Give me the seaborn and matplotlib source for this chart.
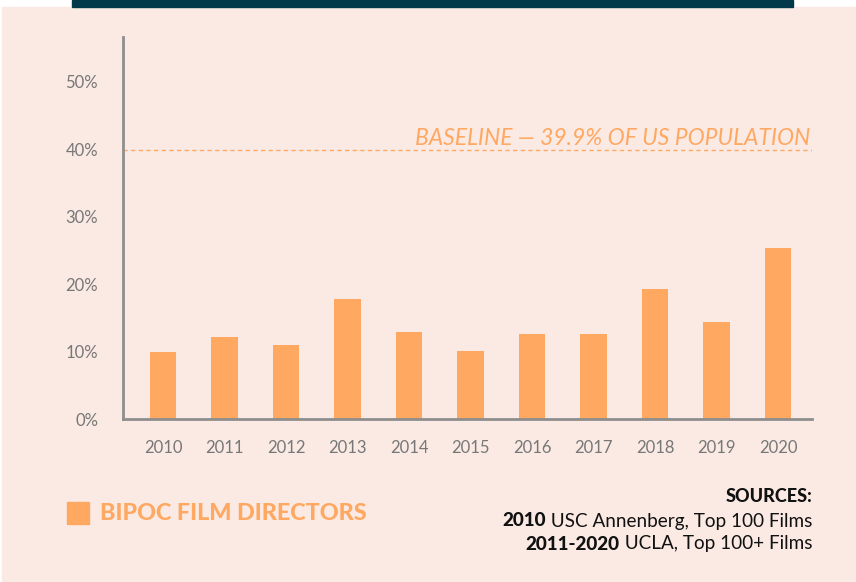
import pandas as pd
import matplotlib.pyplot as plt
import seaborn as sns
from matplotlib.patches import Rectangle
#------------------------------------
# Data
years = ['2010', '2011', '2012', '2013', '2014', '2015', '2016', '2017', '2018', '2019', '2020']
bipoc_pct = [10.0, 12.1, 11.0, 17.8, 12.9, 10.1, 12.6, 12.6, 19.3, 14.4, 25.3]
baseline_pct = 39.9
y_ticks = [0, 10, 20, 30, 40, 50]
y_labels = ['0%', '10%', '20%', '30%', '40%', '50%']
source_years = ['2010', '2011-2020']
source_names = ['USC Annenberg, Top 100 Films', 'UCLA, Top 100+ Films']
#------------------------------------
ORANGE = '#FFA862'
GREY = '#8E8E8E'
PINK = '#FAEAE3'
NAVY = '#02394A'

sns.set_theme(style='white')
plt.rcParams['font.family'] = ['Lato', 'DejaVu Sans']

df = pd.DataFrame({'year': years, 'pct': bipoc_pct})

fig = plt.figure(figsize=(8.56, 5.82), dpi=100, facecolor='white')
# pink panel + navy strip at the top
fig.add_artist(Rectangle((2 / 856, 0), 1, 1 - 7 / 582, transform=fig.transFigure,
                         color=PINK, zorder=-10))
fig.add_artist(Rectangle((72 / 856, 1 - 7 / 582), (793 - 72) / 856, 7 / 582,
                         transform=fig.transFigure, color=NAVY, zorder=-10))

ax = fig.add_axes([123 / 856, 1 - 419 / 582, (812 - 123) / 856, (419 - 37) / 582])
ax.set_facecolor('none')
sns.barplot(data=df, x='year', y='pct', color=ORANGE, saturation=1, width=0.43,
            linewidth=0, ax=ax)
ax.set_xlim(-0.65, 10.55)
ax.set_ylim(0, 56.6)

# baseline
ax.axhline(baseline_pct, color=ORANGE, lw=1, ls=(0, (3, 2.5)))
ax.text(10.52, baseline_pct + 0.75, 'BASELINE \u2014 39.9% OF US POPULATION',
        ha='right', va='baseline', color=ORANGE, fontsize=16.5, style='italic')

# axes styling
sns.despine(ax=ax, top=True, right=True)
for s in ['left', 'bottom']:
    ax.spines[s].set_color(GREY)
    ax.spines[s].set_linewidth(2)
ax.set_yticks(y_ticks)
ax.set_yticklabels(y_labels)
ax.tick_params(axis='both', colors=GREY, length=6, width=2, direction='out',
               labelcolor='#777777', labelsize=12)
ax.tick_params(axis='y', pad=12)
ax.tick_params(axis='x', pad=9)
ax.set_xlabel('')
ax.set_ylabel('')

# legend
fig.add_artist(Rectangle((67 / 856, 1 - 524 / 582), 22 / 856, 22 / 582,
                         transform=fig.transFigure, color=ORANGE))
fig.text(100 / 856, 1 - 513 / 582, 'BIPOC FILM DIRECTORS', ha='left', va='center',
         color=ORANGE, fontsize=16.8, fontweight='black')

# sources: regular part right-aligned, bold year placed to its left
fig.text(812 / 856, 1 - 496 / 582, 'SOURCES:', ha='right', va='center',
         color='#111111', fontsize=13, fontweight='black')
renderer = fig.canvas.get_renderer()
for i, (yr, name) in enumerate(zip(source_years, source_names)):
    ypos = 1 - (521 + 23 * i) / 582
    t = fig.text(812 / 856, ypos, ' ' + name, ha='right', va='center',
                 color='#111111', fontsize=13.6)
    w = t.get_window_extent(renderer).width
    fig.text((812 - w) / 856, ypos, yr, ha='right', va='center',
             color='#111111', fontsize=13.6, fontweight='black')

plt.savefig('out.png', dpi=100, facecolor=fig.get_facecolor())
